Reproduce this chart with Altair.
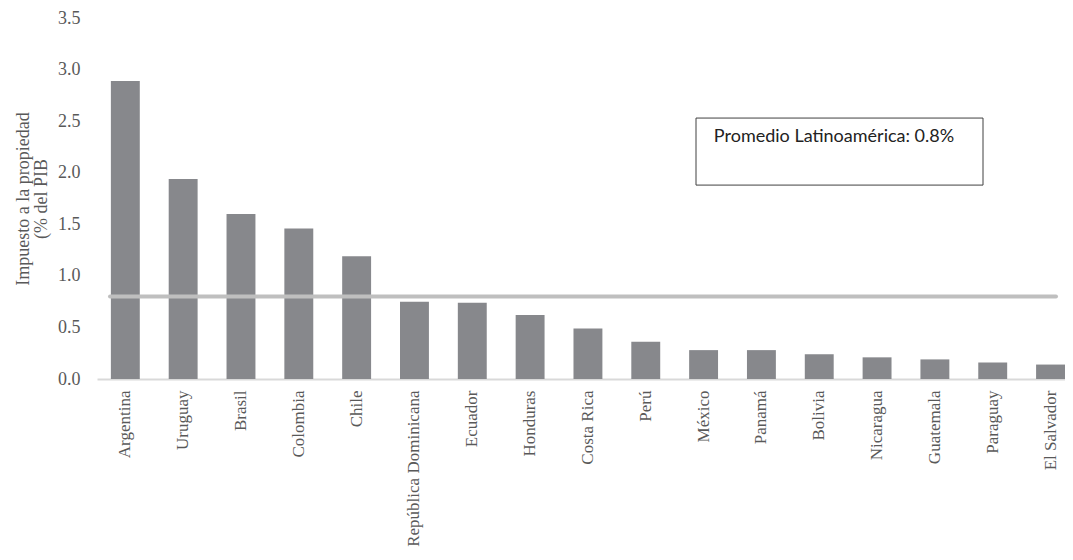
import altair as alt
import pandas as pd

countries = ["Argentina", "Uruguay", "Brasil", "Colombia", "Chile",
             "República Dominicana", "Ecuador", "Honduras", "Costa Rica",
             "Perú", "México", "Panamá", "Bolivia", "Nicaragua",
             "Guatemala", "Paraguay", "El Salvador"]
values = [2.89, 1.94, 1.60, 1.46, 1.19, 0.75, 0.74, 0.62, 0.49,
          0.36, 0.28, 0.28, 0.24, 0.21, 0.19, 0.16, 0.14]
average = 0.8
note_text = "Promedio Latinoamérica: 0.8%"
y_title = ["Impuesto a la propiedad", "(% del PIB"]

df = pd.DataFrame({"pais": countries, "valor": values})

W, H = 968, 361
serif = "Liberation Serif"
grey_txt = "#595959"

x_enc = alt.X("pais:N", sort=countries, title=None,
              scale=alt.Scale(paddingInner=0.5, paddingOuter=0.12, align=1),
              axis=alt.Axis(labelAngle=-90, labelAlign="right", labelBaseline="middle",
                            labelPadding=11, labelFont=serif, labelFontSize=17,
                            labelColor=grey_txt, ticks=False, domainColor="#d9d9d9",
                            domainWidth=2, labelLimit=300))
y_enc = alt.Y("valor:Q", title=y_title,
              scale=alt.Scale(domain=[0, 3.5], nice=False),
              axis=alt.Axis(values=[0, 0.5, 1, 1.5, 2, 2.5, 3, 3.5], format=".1f",
                            grid=False, domain=False, ticks=False, labelPadding=17,
                            labelFont=serif, labelFontSize=18, labelColor=grey_txt,
                            titleFont=serif, titleFontSize=18, titleFontWeight="normal",
                            titleColor=grey_txt, titleLineHeight=18,
                            titleX=-65, titleY=H / 2, titleAngle=-90))

bars = alt.Chart(df).mark_bar(color="#87888c").encode(x=x_enc, y=y_enc)

avg_df = pd.DataFrame({"avg": [average]})
avg_line = alt.Chart(avg_df).mark_rule(color="#bfbfbf", strokeWidth=4, strokeCap="round").encode(
    y=alt.Y("avg:Q"), x=alt.value(13), x2=alt.value(959))

box_df = pd.DataFrame({"top": [2.53], "bottom": [1.88], "t": [note_text], "ty": [2.35]})
box = alt.Chart(box_df).mark_rect(fill="white", stroke="#404040", strokeWidth=1).encode(
    y=alt.Y("top:Q"), y2="bottom:Q", x=alt.value(599), x2=alt.value(886))
note = alt.Chart(box_df).mark_text(font="Lato", fontSize=18, color="#222222",
                                   align="center", baseline="middle").encode(
    y=alt.Y("ty:Q"), x=alt.value(737), text="t:N")

chart = alt.layer(bars, avg_line, box, note).properties(
    width=W, height=H,
    autosize=alt.AutoSizeParams(type="none"),
    padding={"left": 89, "top": 10, "right": 0, "bottom": 168},
).configure(background="white", view=alt.ViewConfig(strokeWidth=0, stroke="transparent"))

chart.save("out.html", embed_options={"renderer": "svg", "actions": False})
